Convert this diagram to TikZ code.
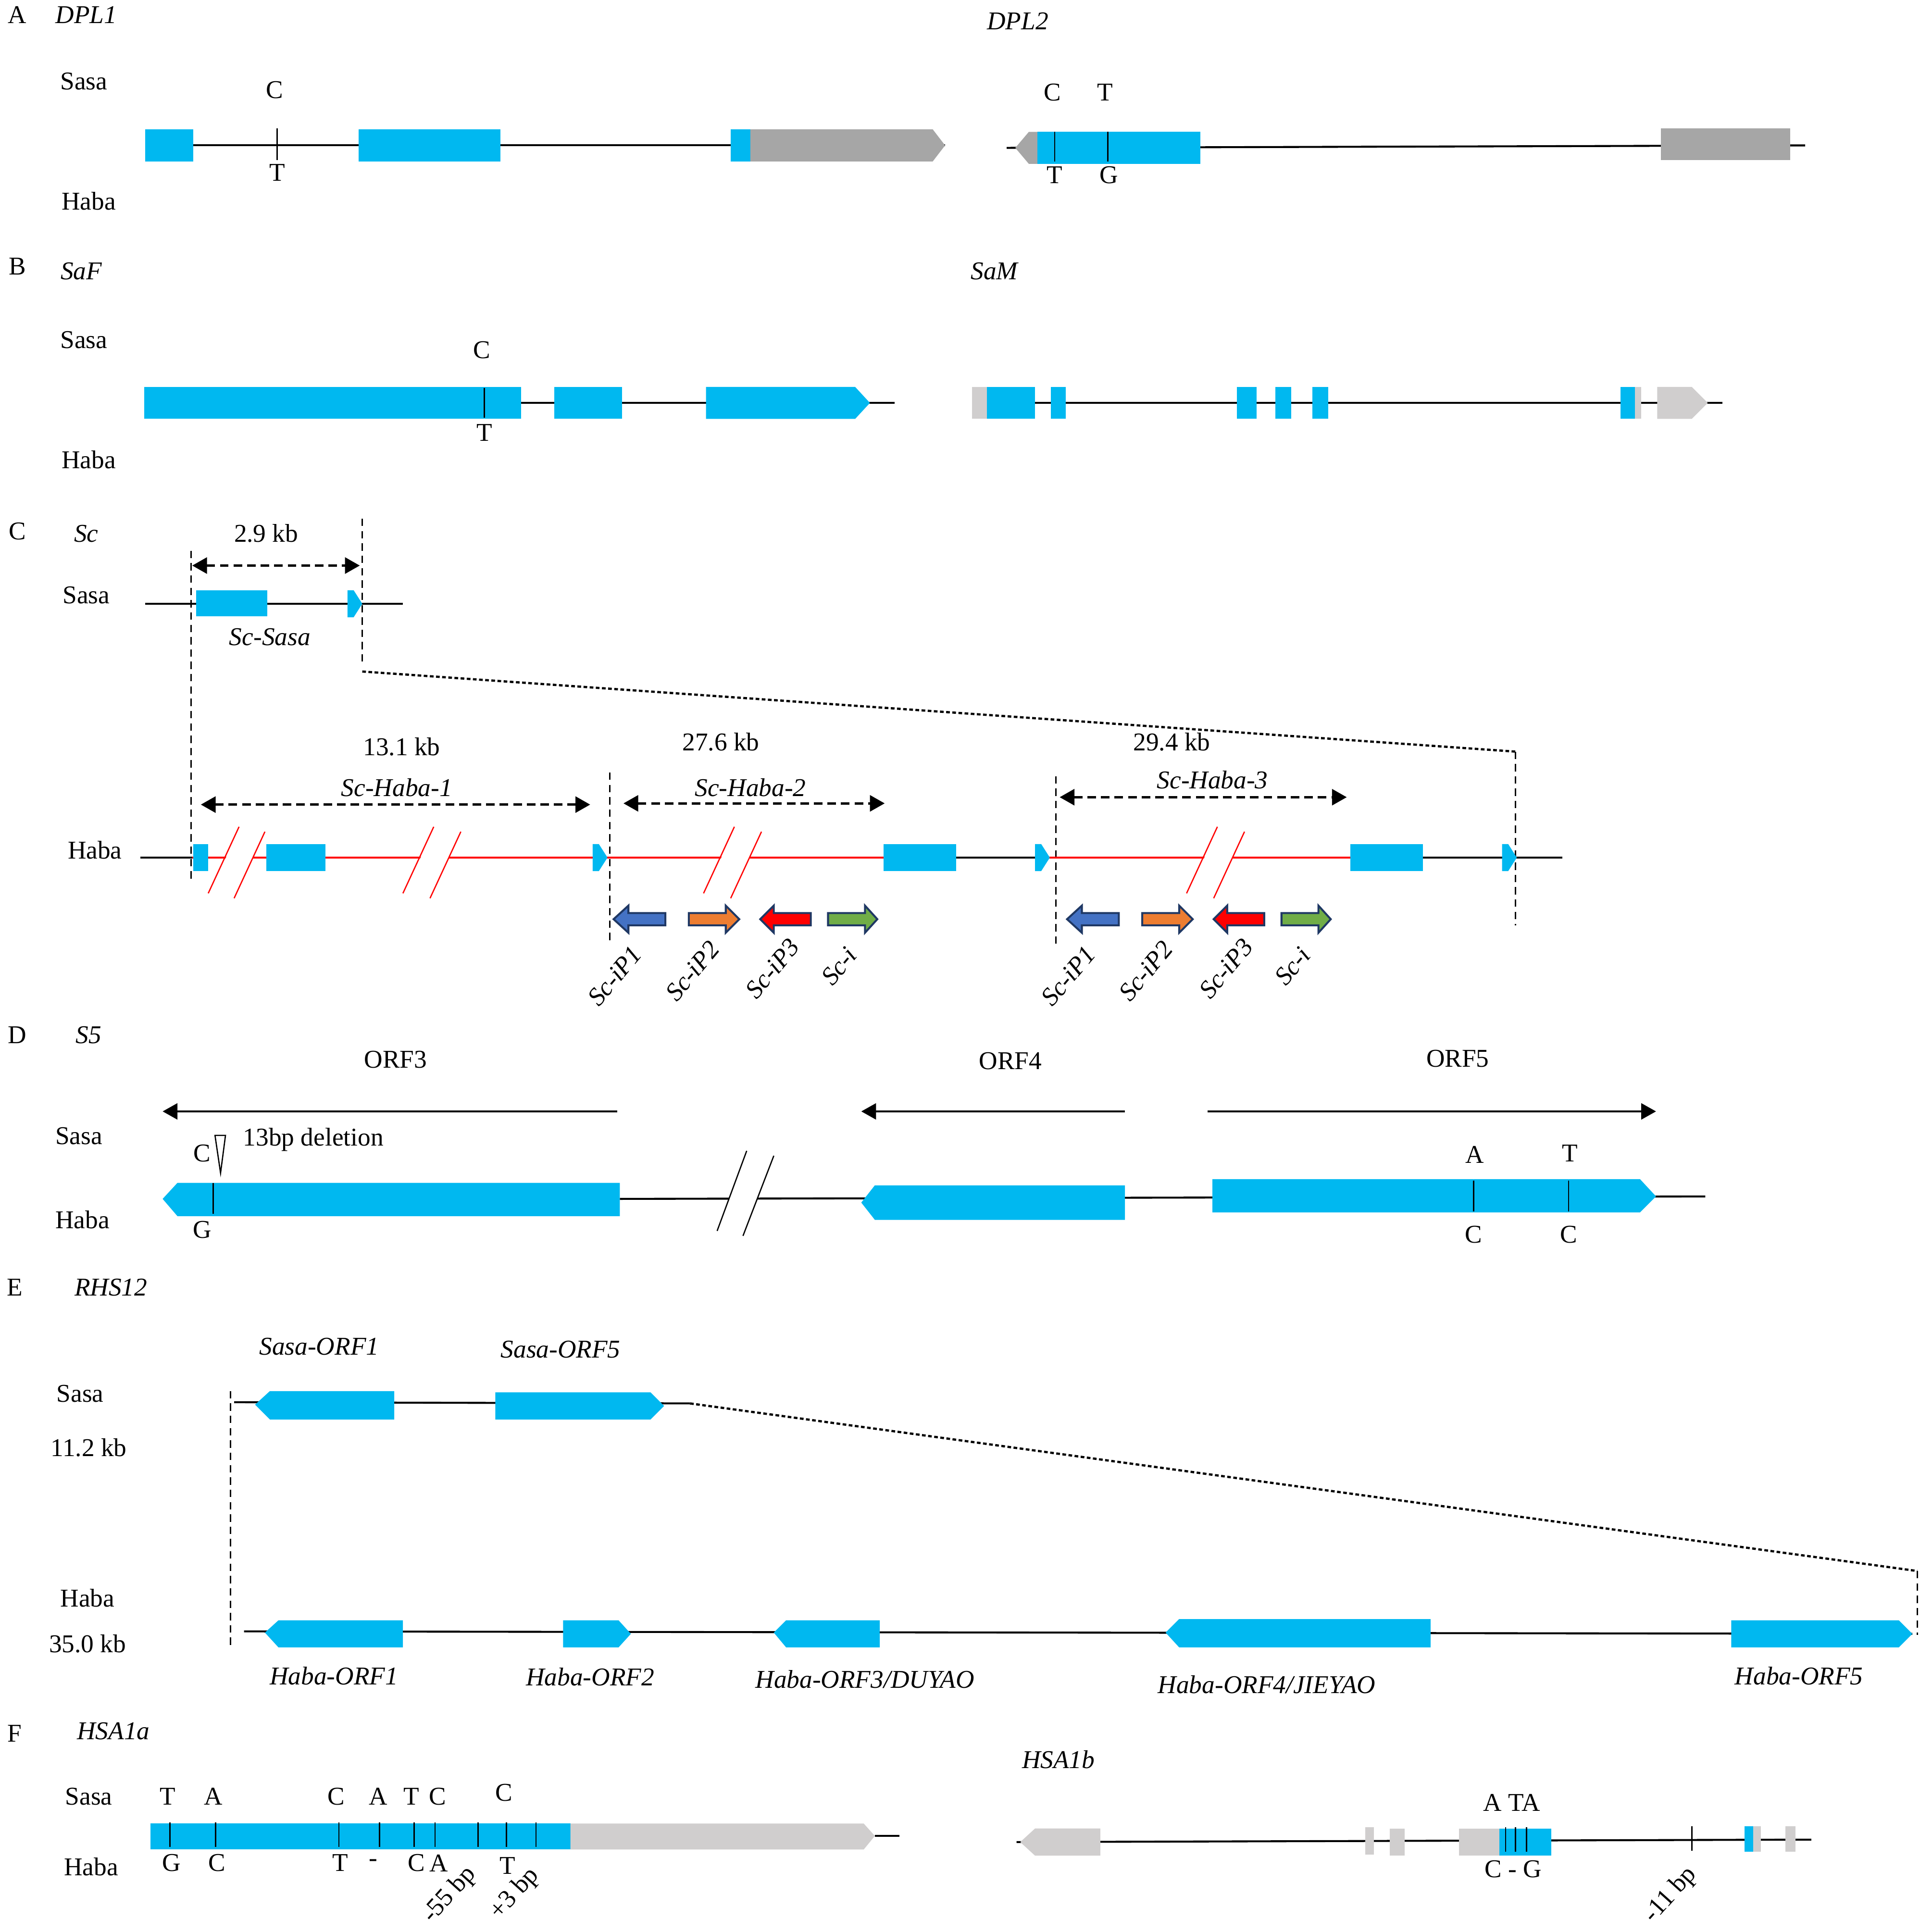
\documentclass[tikz,border=0pt]{standalone}
\usepackage{fontspec}
\setmainfont{Liberation Serif}
\usetikzlibrary{arrows.meta}
\definecolor{exonblue}{HTML}{00B8F0}
\definecolor{utrdark}{HTML}{A6A6A6}
\definecolor{utrlight}{HTML}{D0CECE}
\definecolor{ipblue}{HTML}{4472C4}
\definecolor{iporange}{HTML}{ED7D31}
\definecolor{ipgreen}{HTML}{70AD47}
\definecolor{ipedge}{HTML}{1F3864}
\begin{document}
\begin{tikzpicture}
    [x=0.5pt, y=-0.5pt,
     every node/.style={inner sep=0pt, font=\fontsize{10.4}{12}\selectfont},
     gname/.style={font=\fontsize{10.4}{12}\selectfont\itshape},
     dna/.style={line width=0.8pt},
     snp/.style={line width=0.5pt},
     guide/.style={line width=0.5pt, dash pattern=on 3pt off 2pt},
     zoomline/.style={line width=0.9pt, dash pattern=on 1.5pt off 1pt},
     kbspan/.style={line width=1pt, dash pattern=on 3.5pt off 2pt,
       {Triangle[length=6pt,width=6.5pt]}-{Triangle[length=6pt,width=6.5pt]}},
     orfdir/.style={line width=0.8pt, -{Triangle[length=6pt,width=6.5pt]}},
     brk/.style={line width=0.5pt},
     iparrow/.style={draw=ipedge, line width=0.8pt, line join=miter}]
    \fill [white] (0,0) rectangle (1558,1568);
    \useasboundingbox (0,0) rectangle (1558,1568);

    % A
    \node (labA) at (14,12) {A};
    \node [gname] (dpl1) at (70,12) {DPL1};
    \node [gname] (dpl2) at (826,17) {DPL2};
    \node (sasaA) at (68,66) {Sasa};
    \node (habaA) at (72,163) {Haba};
    \draw [dna] (118,118) -- (767,118);
    \fill [exonblue] (118,105) rectangle (157,131);
    \fill [exonblue] (291,105) rectangle (406,131);
    \fill [exonblue] (593,105) rectangle (609,131);
    \fill [utrdark] (609,105) -- (757,105) -- (767,118) -- (757,131) -- (609,131) -- cycle;
    \draw [snp] (225,104) -- (225,130);
    \node (a1s) at (223,73) {C};
    \node (a1h) at (225,140) {T};
    \draw [dna] (817,120) -- (1465,118);
    \fill [utrdark] (824,120) -- (835,107) -- (842,107) -- (842,133) -- (835,133) -- cycle;
    \fill [exonblue] (842,107) rectangle (974,133);
    \fill [utrdark] (1348,104) rectangle (1453,130);
    \draw [snp] (856,107) -- (856,131);
    \draw [snp] (899,107) -- (899,131);
    \node (a2s) at (854,75) {C};
    \node (a3s) at (897,75) {T};
    \node (a2h) at (856,142) {T};
    \node (a3h) at (900,142) {G};

    % B
    \node (labB) at (14,216) {B};
    \node [gname] (saf) at (66,220) {SaF};
    \node [gname] (sam) at (807,220) {SaM};
    \node (sasaB) at (68,276) {Sasa};
    \node (habaB) at (72,373) {Haba};
    \draw [dna] (117,327) -- (726,327);
    \fill [exonblue] (117,314) rectangle (423,340);
    \fill [exonblue] (450,314) rectangle (505,340);
    \fill [exonblue] (573,314) -- (694,314) -- (706,327) -- (694,340) -- (573,340) -- cycle;
    \draw [snp] (393,315) -- (393,339);
    \node (b1s) at (391,284) {C};
    \node (b1h) at (393,351) {T};
    \draw [dna] (790,327) -- (1398,327);
    \fill [utrlight] (789,314) rectangle (801,340);
    \fill [exonblue] (801,314) rectangle (840,340);
    \fill [exonblue] (853,314) rectangle (865,340);
    \fill [exonblue] (1004,314) rectangle (1020,340);
    \fill [exonblue] (1035,314) rectangle (1048,340);
    \fill [exonblue] (1065,314) rectangle (1078,340);
    \fill [exonblue] (1315,314) rectangle (1327,340);
    \fill [utrlight] (1327,314) rectangle (1332,340);
    \fill [utrlight] (1345,314) -- (1373,314) -- (1386,327) -- (1373,340) -- (1345,340) -- cycle;

    % C
    \node (labC) at (14,431) {C};
    \node [gname] (sc) at (70,433) {Sc};
    \node (kb29) at (216,433) {2.9 kb};
    \node (sasaC) at (70,483) {Sasa};
    \node [gname] (scsasa) at (219,517) {Sc-Sasa};
    \draw [guide] (155,447) -- (155,715);
    \draw [guide] (294,421) -- (294,540);
    \draw [kbspan] (156,459) -- (292,459);
    \draw [dna] (118,490) -- (327,490);
    \fill [exonblue] (159,479) rectangle (217,500);
    \fill [exonblue] (282,479) -- (287,479) -- (294,490) -- (287,501) -- (282,501) -- cycle;
    \draw [zoomline] (294,545) -- (1230,610);
    \draw [guide] (1230,610) -- (1230,751);

    \node (habaC) at (77,690) {Haba};
    \node (kb131) at (326,606) {13.1 kb};
    \node (kb276) at (585,602) {27.6 kb};
    \node (kb294) at (951,602) {29.4 kb};
    \node [gname] (hab1) at (322,639) {Sc-Haba-1};
    \node [gname] (hab2) at (609,639) {Sc-Haba-2};
    \node [gname] (hab3) at (984,633) {Sc-Haba-3};
    \draw [kbspan] (163,653) -- (479,653);
    \draw [kbspan] (506,652) -- (718,652);
    \draw [kbspan] (860,647) -- (1093,647);
    \draw [guide] (495,627) -- (495,764);
    \draw [guide] (857,630) -- (857,768);
    \draw [dna] (114,696) -- (156,696);
    \draw [dna, red] (156,696) -- (717,696);
    \draw [dna] (776,696) -- (851,696);
    \draw [dna, red] (851,696) -- (1096,696);
    \draw [dna] (1155,696) -- (1268,696);
    \foreach \ax/\bx in {194/215, 352/374, 596/618, 988/1010}
      \fill [white] (\ax,673) -- (\bx,676) -- (\bx-24,728) -- (\ax-24,725) -- cycle;
    \fill [exonblue] (157,685) rectangle (169,707);
    \fill [exonblue] (216,685) rectangle (264,707);
    \fill [exonblue] (717,685) rectangle (776,707);
    \fill [exonblue] (1096,685) rectangle (1155,707);
    \foreach \sx in {481, 840, 1219}
      \fill [exonblue] (\sx,685) -- (\sx+5,685) -- (\sx+12,696) -- (\sx+5,707) -- (\sx,707) -- cycle;
    \foreach \ax/\bx in {194/215, 352/374, 596/618, 988/1010} {
      \draw [brk, red] (\ax,671) -- (\ax-25,725);
      \draw [brk, red] (\bx,675) -- (\bx-25,729);
    }
    \foreach \dx in {0, 368} {
      \filldraw [iparrow, fill=ipblue] (\dx+498,746) -- (\dx+510,735) -- (\dx+510,741)
        -- (\dx+540,741) -- (\dx+540,751) -- (\dx+510,751) -- (\dx+510,757) -- cycle;
      \filldraw [iparrow, fill=iporange] (\dx+600,746) -- (\dx+589,735) -- (\dx+589,741)
        -- (\dx+559,741) -- (\dx+559,751) -- (\dx+589,751) -- (\dx+589,757) -- cycle;
      \filldraw [iparrow, fill=red] (\dx+617,746) -- (\dx+628,735) -- (\dx+628,741)
        -- (\dx+658,741) -- (\dx+658,751) -- (\dx+628,751) -- (\dx+628,757) -- cycle;
      \filldraw [iparrow, fill=ipgreen] (\dx+712,746) -- (\dx+702,735) -- (\dx+702,741)
        -- (\dx+672,741) -- (\dx+672,751) -- (\dx+702,751) -- (\dx+702,757) -- cycle;
      \node [gname, rotate=50] (ip1-\dx) at (\dx+499,792) {Sc-iP1};
      \node [gname, rotate=50] (ip2-\dx) at (\dx+562,788) {Sc-iP2};
      \node [gname, rotate=50] (ip3-\dx) at (\dx+627,786) {Sc-iP3};
      \node [gname, rotate=50] (sci-\dx) at (\dx+681,784) {Sc-i};
    }

    % D
    \node (labD) at (14,840) {D};
    \node [gname] (s5) at (72,840) {S5};
    \node (orf3) at (321,860) {ORF3};
    \node (orf4) at (820,861) {ORF4};
    \node (orf5) at (1183,859) {ORF5};
    \node (sasaD) at (64,922) {Sasa};
    \node (habaD) at (67,990) {Haba};
    \draw [orfdir] (501,902) -- (132,902);
    \draw [orfdir] (913,902) -- (699,902);
    \draw [orfdir] (980,902) -- (1344,902);
    \draw [dna] (503,973) -- (1384,971);
    \fill [white] (606,934) -- (628,938) -- (603,1003) -- (582,999) -- cycle;
    \draw [brk] (606,934) -- (582,999);
    \draw [brk] (628,938) -- (603,1003);
    \fill [exonblue] (132,973) -- (144,960) -- (503,960) -- (503,987) -- (144,987) -- cycle;
    \fill [exonblue] (699,976) -- (710,962) -- (913,962) -- (913,990) -- (710,990) -- cycle;
    \fill [exonblue] (984,957) -- (1331,957) -- (1344,971) -- (1331,984) -- (984,984) -- cycle;
    \draw [snp] (173,960) -- (173,985);
    \draw [snp] (1196,958) -- (1196,983);
    \draw [snp] (1273,958) -- (1273,983);
    \draw [snp, fill=white] (174.5,921.5) -- (183,921.5) -- (179,952) -- cycle;
    \node (d1s) at (164,936) {C};
    \node [anchor=west] (del13) at (197,925) {13bp deletion};
    \node (d1h) at (164,998) {G};
    \node (d2s) at (1197,937) {A};
    \node (d3s) at (1274,936) {T};
    \node (d2h) at (1196,1002) {C};
    \node (d3h) at (1273,1002) {C};

    % E
    \node (labE) at (12,1045) {E};
    \node [gname] (rhs12) at (90,1045) {RHS12};
    \node [gname] (sorf1) at (259,1093) {Sasa-ORF1};
    \node [gname] (sorf5) at (455,1095) {Sasa-ORF5};
    \node (sasaE) at (65,1131) {Sasa};
    \node (kb112) at (72,1175) {11.2 kb};
    \node (habaE) at (71,1297) {Haba};
    \node (kb350) at (71,1334) {35.0 kb};
    \draw [guide] (187,1129) -- (187,1337);
    \draw [zoomline] (560,1139) -- (1556,1275);
    \draw [guide] (1556,1275) -- (1556,1327);
    \draw [dna] (190,1138) -- (560,1139);
    \fill [exonblue] (207,1140) -- (219,1129) -- (320,1129) -- (320,1152) -- (219,1152) -- cycle;
    \fill [exonblue] (402,1130) -- (528,1130) -- (539,1141) -- (528,1152) -- (402,1152) -- cycle;
    \draw [dna] (198,1324) -- (1552,1326);
    \fill [exonblue] (215,1325) -- (226,1315) -- (327,1315) -- (327,1337) -- (226,1337) -- cycle;
    \fill [exonblue] (457,1315) -- (502,1315) -- (512,1326) -- (502,1337) -- (457,1337) -- cycle;
    \fill [exonblue] (628,1325) -- (638,1315) -- (714,1315) -- (714,1337) -- (638,1337) -- cycle;
    \fill [exonblue] (946,1325) -- (957,1314) -- (1161,1314) -- (1161,1337) -- (957,1337) -- cycle;
    \fill [exonblue] (1405,1315) -- (1541,1315) -- (1552,1326) -- (1541,1337) -- (1405,1337) -- cycle;
    \node [gname] (horf1) at (271,1360) {Haba-ORF1};
    \node [gname] (horf2) at (479,1361) {Haba-ORF2};
    \node [gname] (horf3) at (702,1363) {Haba-ORF3/DUYAO};
    \node [gname] (horf4) at (1028,1367) {Haba-ORF4/JIEYAO};
    \node [gname] (horf5) at (1460,1360) {Haba-ORF5};

    % F
    \node (labF) at (12,1407) {F};
    \node [gname] (hsa1a) at (92,1405) {HSA1a};
    \node [gname] (hsa1b) at (859,1428) {HSA1b};
    \node (sasaF) at (72,1458) {Sasa};
    \node (habaF) at (74,1515) {Haba};
    \draw [dna] (710,1490) -- (730,1490);
    \fill [exonblue] (122,1480) rectangle (463,1501);
    \fill [utrlight] (463,1480) -- (701,1480) -- (710,1490) -- (701,1501) -- (463,1501) -- cycle;
    \foreach \tx in {138, 175, 275, 308, 336, 353, 388, 411, 435}
      \draw [snp] (\tx,1479) -- (\tx,1499);
    \foreach \tx/\nt [count=\i] in {136/T, 173/A, 273/C, 307/A, 334/T, 355/C}
      \node (f\i s) at (\tx,1458) {\nt};
    \node (f7s) at (409,1455) {C};
    \foreach \tx/\nt [count=\i] in {139/G, 176/C, 276/T, 303/-, 338/C, 356/A}
      \node (f\i h) at (\tx,1512) {\nt};
    \node (f7h) at (412,1514) {T};
    \node [rotate=48] (bp55) at (365,1538) {-55 bp};
    \node [rotate=48] (bp3) at (418,1537) {+3 bp};
    \draw [dna] (825,1495) -- (1470,1493);
    \fill [utrlight] (828,1495) -- (840,1484) -- (893,1484) -- (893,1506) -- (840,1506) -- cycle;
    \fill [utrlight] (1108,1483) rectangle (1115,1505);
    \fill [utrlight] (1128,1484) rectangle (1140,1506);
    \fill [utrlight] (1184,1484) rectangle (1217,1506);
    \fill [exonblue] (1217,1484) rectangle (1259,1506);
    \fill [exonblue] (1416,1482) rectangle (1423,1503);
    \fill [utrlight] (1423,1482) rectangle (1429,1503);
    \fill [utrlight] (1449,1482) rectangle (1457,1503);
    \foreach \tx in {1222, 1230, 1239}
      \draw [snp] (\tx,1483) -- (\tx,1503);
    \draw [snp] (1373,1482) -- (1373,1502);
    \node (f8s) at (1227,1463) {A TA};
    \node (f8h) at (1228,1517) {C - G};
    \node [rotate=48] (bp11) at (1356,1538) {-11 bp};
\end{tikzpicture}
\end{document}
